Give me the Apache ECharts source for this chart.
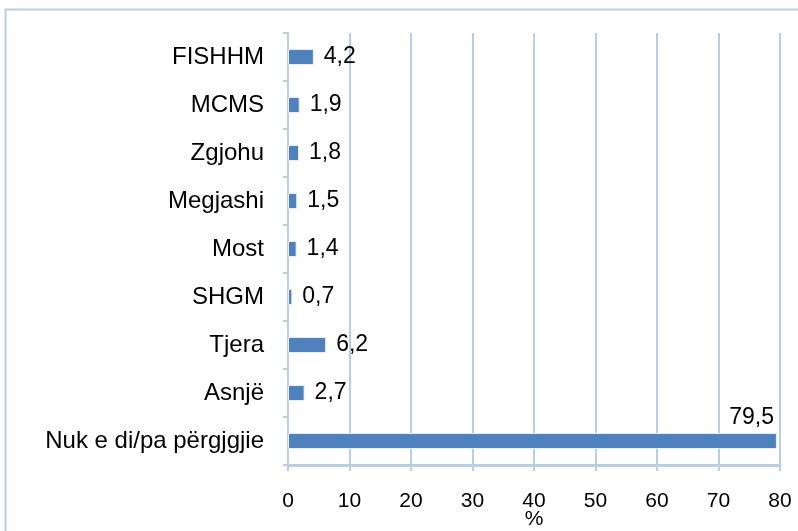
<!DOCTYPE html>
<html>
<head>
<meta charset="utf-8">
<script src="https://cdn.jsdelivr.net/npm/echarts@6/dist/echarts.min.js"></script>
<style>
html,body{margin:0;padding:0;background:#fff;}
#chart{width:798px;height:531px;}
</style>
</head>
<body>
<div id="chart"></div>
<script>
// kategorite, nga lart poshte
var categories = ['FISHHM', 'MCMS', 'Zgjohu', 'Megjashi', 'Most', 'SHGM', 'Tjera', 'Asnjë', 'Nuk e di/pa përgjgjie'];
var values = [4.2, 1.9, 1.8, 1.5, 1.4, 0.7, 6.2, 2.7, 79.5];
var xTicks = [0, 80, 10];   // min, max, interval

var lineCol = '#b9cde5';
var barCol = '#4f81bd';

function comma(v){
	return String(v).replace('.', ',');
}

var seriesData = values.map(function(v, i){
	var item = {value: v};
	if(v > 50){
		// vlera e madhe: etiketa mbi fund te shiritit
		item.label = {
			position: ['100%', 0],
			align: 'right',
			verticalAlign: 'bottom',
			offset: [-3, -4]
		};
	}
	return item;
});

var myChart = echarts.init(document.getElementById('chart'));
var option = {
	animation: false,
	grid: {left: 288, right: 18, top: 33, bottom: 66, containLabel: false, outerBoundsMode: 'none'},
	graphic: [{
		type: 'rect',
		shape: {x: 5.5, y: 9.5, width: 820, height: 560},
		style: {fill: null, stroke: lineCol, lineWidth: 2}
	}],
	xAxis: {
		type: 'value',
		min: xTicks[0],
		max: xTicks[1],
		interval: xTicks[2],
		name: '%',
		nameLocation: 'middle',
		nameGap: 44,
		nameMoveOverlap: false,
		nameTextStyle: {color: '#000', fontSize: 21, fontFamily: 'Liberation Sans'},
		axisLine: {show: true, lineStyle: {color: lineCol, width: 3}},
		axisTick: {show: true, length: 6, lineStyle: {color: lineCol, width: 2}},
		axisLabel: {color: '#000', fontSize: 21, margin: 26, fontFamily: 'Liberation Sans'},
		splitLine: {show: true, lineStyle: {color: lineCol, width: 2}}
	},
	yAxis: {
		type: 'category',
		inverse: true,
		data: categories,
		axisLine: {show: true, lineStyle: {color: lineCol, width: 2}},
		axisTick: {show: true, length: 5, lineStyle: {color: lineCol, width: 2}},
		axisLabel: {color: '#000', fontSize: 24, margin: 24, fontFamily: 'Liberation Sans'}
	},
	series: [{
		type: 'bar',
		data: seriesData,
		barWidth: 16,
		itemStyle: {color: barCol, borderColor: '#e8eef6', borderWidth: 1},
		label: {
			show: true,
			position: 'right',
			distance: 10,
			color: '#000',
			fontSize: 23,
			fontFamily: 'Liberation Sans',
			formatter: function(p){ return comma(p.value); }
		}
	}]
};
myChart.setOption(option);
</script>
</body>
</html>
